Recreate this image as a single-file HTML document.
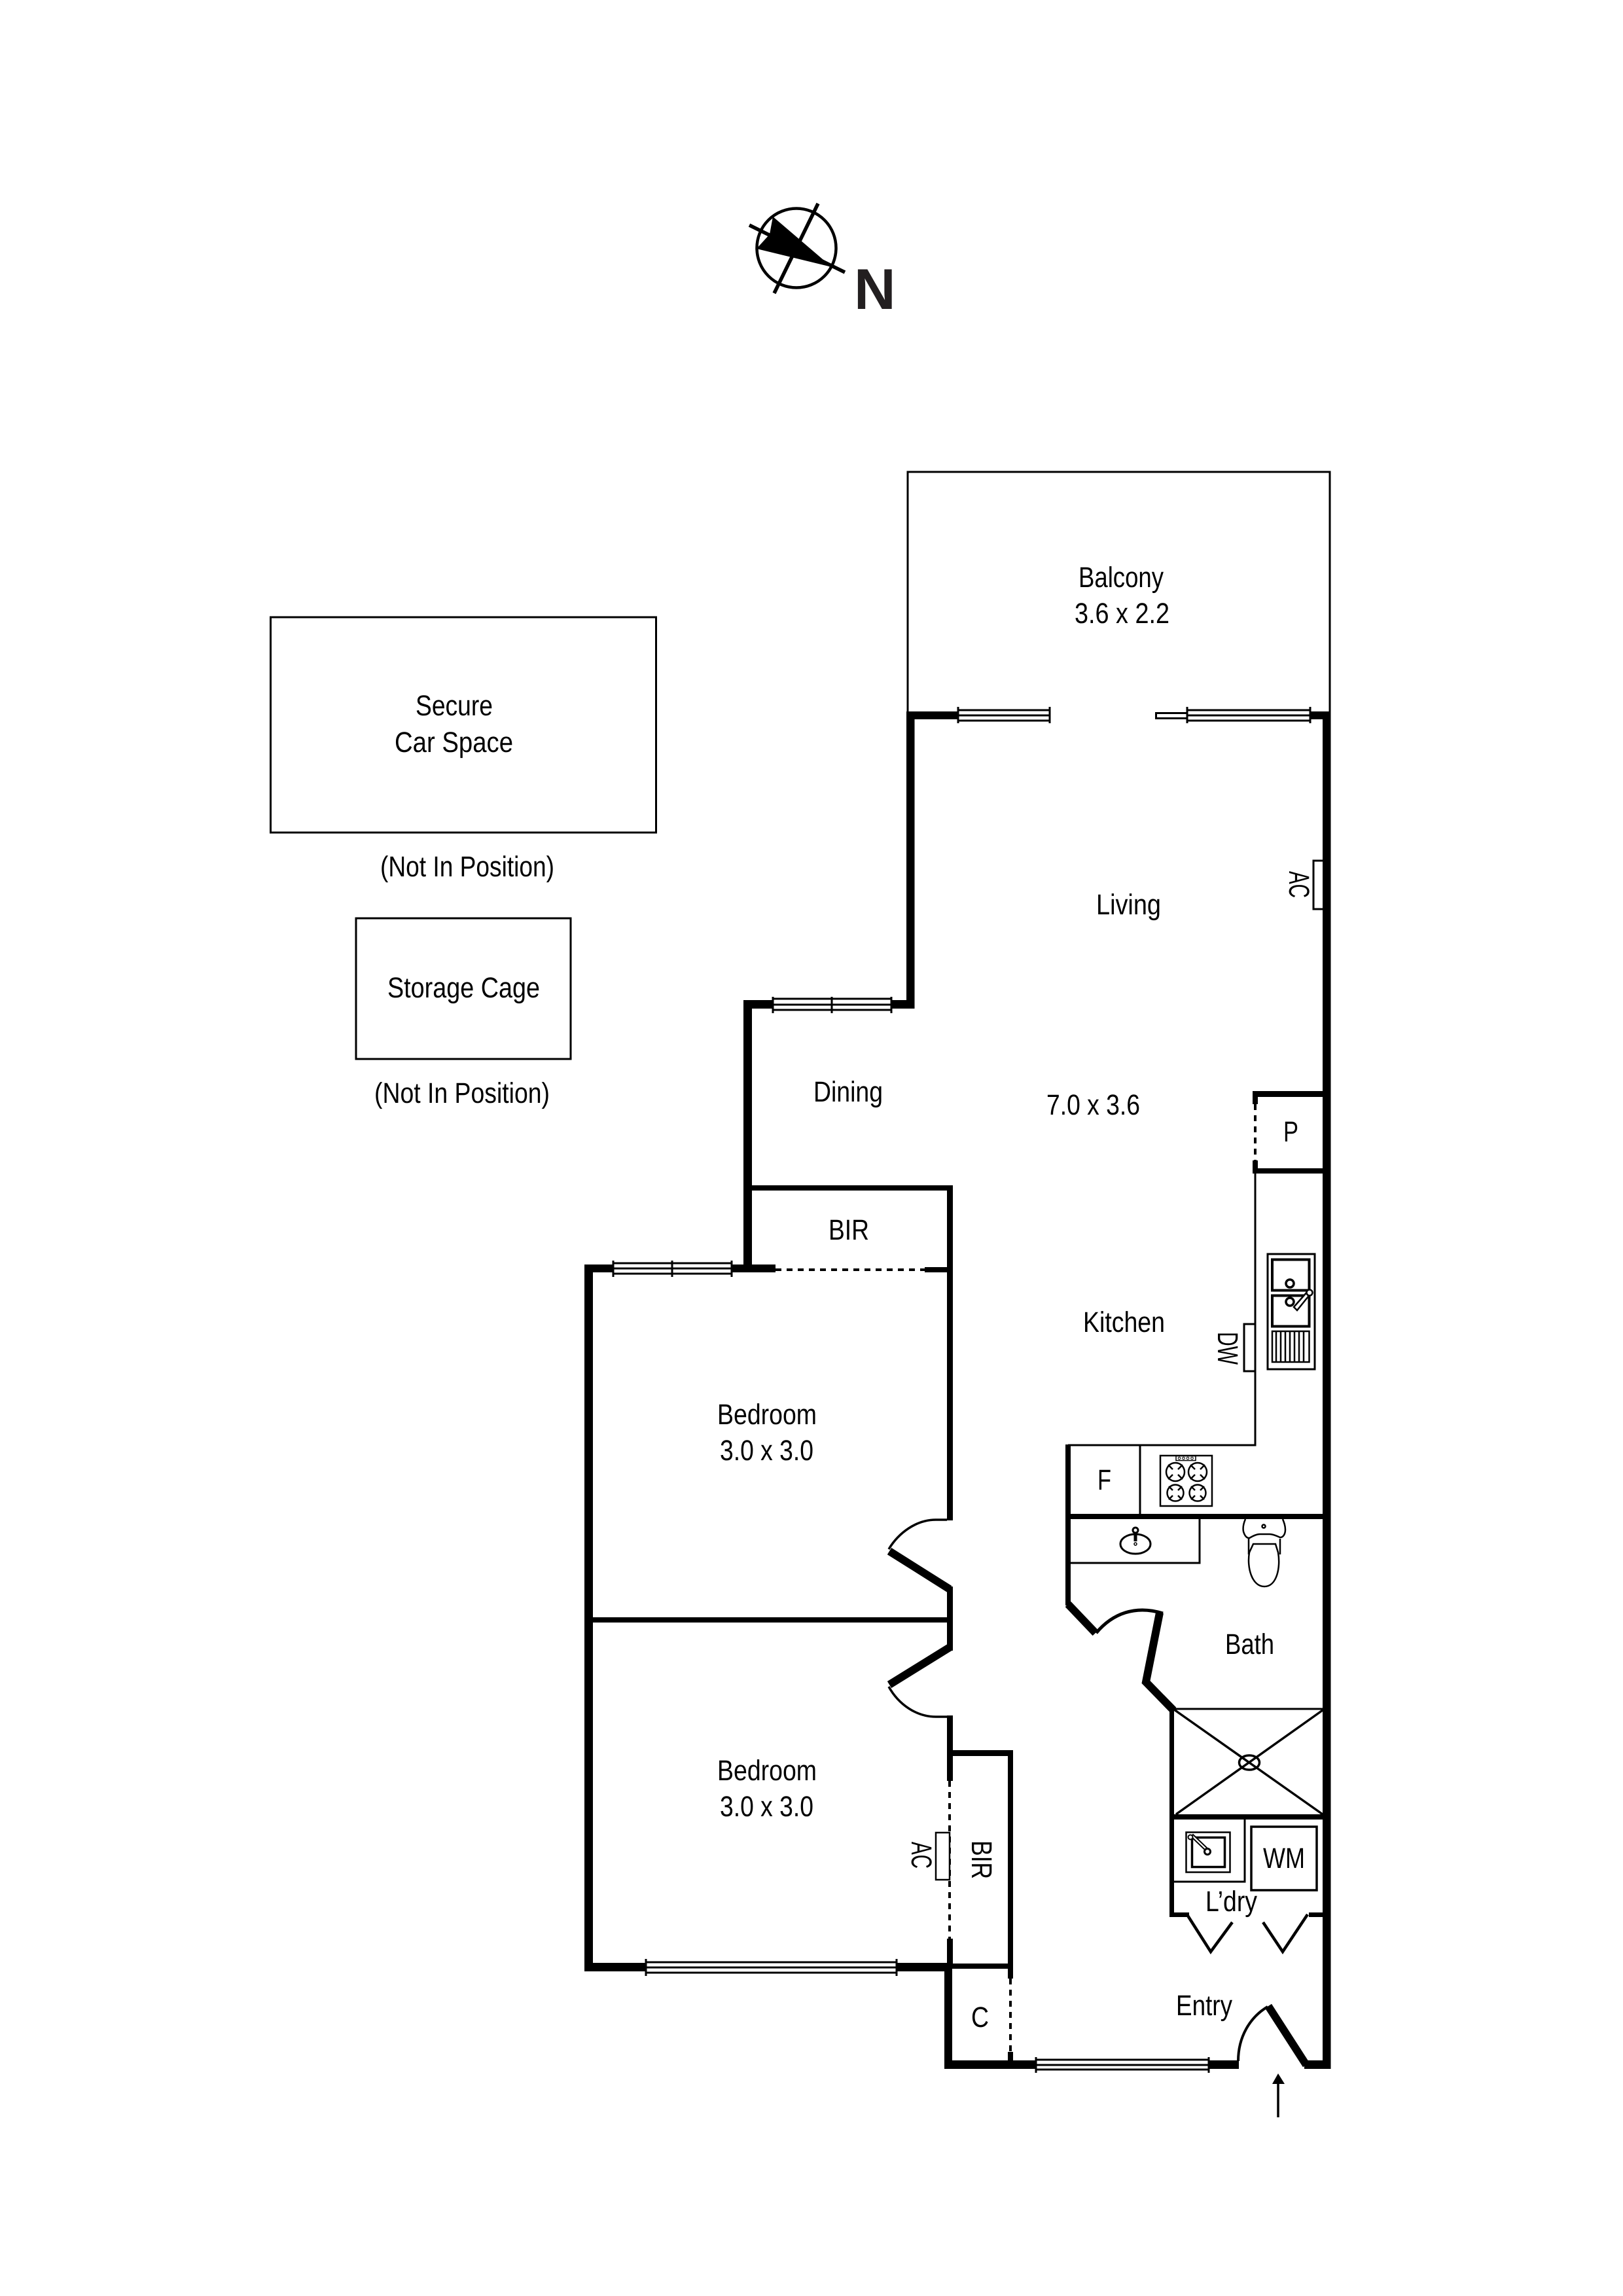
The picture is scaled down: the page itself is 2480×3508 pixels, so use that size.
<!DOCTYPE html>
<html><head><meta charset="utf-8"><title>Floor Plan</title>
<style>
html,body{margin:0;padding:0;background:#fff}
svg{display:block}
text{font-family:"Liberation Sans",Arial,sans-serif;font-size:44px;fill:#000;text-rendering:geometricPrecision}
.w{fill:#000;stroke:none}
.t{fill:none;stroke:#000;stroke-width:3}
.win line{stroke:#000;stroke-width:3}
.d{fill:none;stroke:#000;stroke-width:4;stroke-dasharray:9 8}
.leaf{fill:none;stroke:#000;stroke-width:12;stroke-linejoin:miter}
.arc{fill:none;stroke:#000;stroke-width:3.5}
</style></head><body>
<svg xmlns="http://www.w3.org/2000/svg" width="2480" height="3508" viewBox="0 0 2480 3508">
<rect width="2480" height="3508" fill="#fff"/>

<!-- Compass -->
<circle cx="1217" cy="379" r="60.5" fill="none" stroke="#000" stroke-width="4.5"/>
<line x1="1145" y1="344" x2="1291" y2="416" stroke="#000" stroke-width="5.5"/>
<line x1="1250" y1="311" x2="1183" y2="448" stroke="#000" stroke-width="5.5"/>
<polygon points="1181,331 1176,358 1156,380 1271,408" fill="#000"/>
<text x="1305" y="472" style="font-size:88px;font-weight:bold;fill:#231f20">N</text>

<!-- Separate spaces -->
<rect x="413.500" y="943" width="589" height="329" class="t"/>
<rect x="544" y="1403" width="328" height="215" class="t"/>

<!-- Balcony -->
<polyline points="1387,1090 1387,721 2032,721 2032,1090" class="t"/>

<!-- Thick walls -->
<g class="w">
<rect x="2021" y="1087" width="12.5" height="2074"/>
<rect x="2001" y="1087" width="32" height="12"/>
<rect x="1385" y="1087" width="79" height="12"/>
<rect x="1385" y="1087" width="12.5" height="454"/>
<rect x="1362" y="1528" width="35" height="13"/>
<rect x="1136" y="1528" width="45" height="13"/>
<rect x="1136" y="1528" width="13" height="416"/>
<rect x="1149" y="1811" width="307" height="8"/>
<rect x="1447" y="1811" width="9" height="512"/>
<rect x="893" y="1932" width="44" height="12"/>
<rect x="1118" y="1932" width="67" height="12"/>
<rect x="1413" y="1936" width="36" height="8"/>
<rect x="893" y="1932" width="13" height="1080"/>
<rect x="893" y="2999" width="94" height="13"/>
<rect x="1370" y="2999" width="85" height="13"/>
<rect x="906" y="2471" width="541" height="8"/>
<rect x="1447" y="2424" width="9" height="98"/>
<rect x="1447" y="2621" width="9" height="100"/>
<rect x="1447" y="2674" width="101" height="9"/>
<rect x="1540" y="2674" width="8" height="349"/>
<rect x="1447" y="2962" width="9" height="46"/>
<rect x="1447" y="3000" width="101" height="8"/>
<rect x="1443" y="3000" width="12" height="161"/>
<rect x="1443" y="3148" width="140" height="13"/>
<rect x="1540" y="3135" width="8" height="14"/>
<rect x="1847" y="3148" width="46" height="13"/>
<rect x="1993" y="3148" width="40" height="13"/>
<rect x="1914" y="1667" width="107" height="9"/>
<rect x="1914" y="1667" width="8" height="20"/>
<rect x="1914" y="1785" width="107" height="8"/>
<rect x="1914" y="1773" width="8" height="20"/>
<rect x="1628" y="2207" width="8" height="246"/>
<rect x="1628" y="2313" width="393" height="8"/>
<rect x="1787" y="2612" width="7" height="317"/>
<rect x="1787" y="2772" width="234" height="8"/>
<rect x="1787" y="2922" width="30" height="7"/>
<rect x="2000" y="2922" width="21" height="7"/>
</g>

<!-- Door leaves -->
<g class="leaf">
<line x1="1359" y1="2370" x2="1451" y2="2428"/>
<line x1="1359" y1="2574" x2="1451" y2="2517"/>
<line x1="1938" y1="3065" x2="1996" y2="3155"/>
<polyline points="1632,2451 1674,2495"/>
<polyline points="1772,2464 1751,2570 1793,2613"/>
</g>
<g class="arc">
<path d="M1447,2322 H1430 C1400,2322 1373,2342 1358,2367"/>
<path d="M1358,2577 C1373,2604 1400,2623 1430,2623 H1447"/>
<path d="M1892,3149 C1892,3112 1910,3082 1937,3066" stroke-width="4"/>
<path d="M1675,2495 C1700,2465 1735,2452 1777,2465" stroke-width="5" fill="none"/>
</g>

<!-- Dashed openings -->
<line x1="1185" y1="1940" x2="1413" y2="1940" class="d"/>
<line x1="1451" y1="2721" x2="1451" y2="2962" class="d"/>
<line x1="1544" y1="3023" x2="1544" y2="3135" class="d"/>
<line x1="1918" y1="1687" x2="1918" y2="1773" class="d"/>

<!-- Windows -->
<g class="win">
<line x1="1464" y1="1085" x2="1604" y2="1085"/><line x1="1464" y1="1093" x2="1604" y2="1093"/><line x1="1464" y1="1101" x2="1604" y2="1101"/>
<line x1="1464" y1="1080" x2="1464" y2="1105"/><line x1="1604" y1="1080" x2="1604" y2="1105"/>
<line x1="1814" y1="1085" x2="2002" y2="1085"/><line x1="1814" y1="1093" x2="2002" y2="1093"/><line x1="1814" y1="1101" x2="2002" y2="1101"/>
<line x1="1814" y1="1080" x2="1814" y2="1105"/><line x1="2002" y1="1080" x2="2002" y2="1105"/>
<line x1="1181" y1="1526" x2="1362" y2="1526"/><line x1="1181" y1="1535" x2="1362" y2="1535"/><line x1="1181" y1="1543" x2="1362" y2="1543"/>
<line x1="1181" y1="1523" x2="1181" y2="1548"/><line x1="1271" y1="1523" x2="1271" y2="1548"/><line x1="1362" y1="1523" x2="1362" y2="1548"/>
<line x1="937" y1="1930" x2="1118" y2="1930"/><line x1="937" y1="1938" x2="1118" y2="1938"/><line x1="937" y1="1946" x2="1118" y2="1946"/>
<line x1="937" y1="1926" x2="937" y2="1951"/><line x1="1027" y1="1926" x2="1027" y2="1951"/><line x1="1118" y1="1926" x2="1118" y2="1951"/>
<line x1="987" y1="2998" x2="1370" y2="2998"/><line x1="987" y1="3006" x2="1370" y2="3006"/><line x1="987" y1="3014" x2="1370" y2="3014"/>
<line x1="987" y1="2993" x2="987" y2="3019"/><line x1="1370" y1="2993" x2="1370" y2="3019"/>
<line x1="1583" y1="3147" x2="1847" y2="3147"/><line x1="1583" y1="3155" x2="1847" y2="3155"/><line x1="1583" y1="3162" x2="1847" y2="3162"/>
<line x1="1583" y1="3143" x2="1583" y2="3167"/><line x1="1847" y1="3143" x2="1847" y2="3167"/>
</g>
<rect x="1766.5" y="1089.5" width="47.5" height="8" fill="#fff" stroke="#000" stroke-width="3"/>

<!-- Counter lines -->
<polyline points="1918,1793 1918,2208 1632,2208" class="t"/>
<line x1="1742" y1="2208" x2="1742" y2="2313" class="t"/>
<polyline points="1636,2388 1833,2388 1833,2321" class="t"/>

<!-- AC / DW units -->
<polyline points="2021,1315 2007,1315 2007,1389 2021,1389" class="t" stroke-width="2.5"/>
<polyline points="1917,2023 1901,2023 1901,2095 1917,2095" class="t" stroke-width="2.5"/>
<rect x="1430" y="2800" width="21" height="72" fill="#fff" stroke="#000" stroke-width="2.5"/>

<!-- Kitchen sink -->
<g fill="none" stroke="#000">
<rect x="1937" y="1916" width="72" height="176" stroke-width="3"/>
<rect x="1944" y="1924.5" width="56.500" height="47" stroke-width="4"/>
<rect x="1944" y="1979.5" width="56.500" height="47" stroke-width="4"/>
<circle cx="1971" cy="1961" r="6" stroke-width="3.5"/>
<circle cx="1971" cy="1989" r="6" stroke-width="3.5"/>
<rect x="1944" y="2034" width="56.500" height="47" stroke-width="2.5"/>
<path d="M1950,2034V2081M1957,2034V2081M1964,2034V2081M1971,2034V2081M1978,2034V2081M1985,2034V2081M1992,2034V2081" stroke-width="2.5"/>
</g>
<polygon points="1999,1972 2003,1976 1982,2002 1977,1997" fill="#fff" stroke="#000" stroke-width="2.5"/>
<circle cx="2001" cy="1975" r="4.5" fill="#fff" stroke="#000" stroke-width="2.5"/>

<!-- Cooktop -->
<g fill="none" stroke="#000">
<rect x="1773" y="2224" width="79" height="77" stroke-width="2.5"/>
<rect x="1797" y="2224.5" width="30" height="7" stroke-width="1.5"/>
<circle cx="1802" cy="2228" r="1.8" stroke-width="1"/><circle cx="1808.500" cy="2228" r="1.8" stroke-width="1"/><circle cx="1815" cy="2228" r="1.8" stroke-width="1"/><circle cx="1821.500" cy="2228" r="1.8" stroke-width="1"/>
<circle cx="1796" cy="2249" r="14" stroke-width="2.5"/><circle cx="1830" cy="2249" r="14" stroke-width="2.5"/>
<circle cx="1796" cy="2281" r="12.500" stroke-width="2.5"/><circle cx="1830" cy="2281" r="12.500" stroke-width="2.5"/>
<path d="M1785,2238l7,7M1807,2238l-7,7M1785,2260l7,-7M1807,2260l-7,-7M1819,2238l7,7M1841,2238l-7,7M1819,2260l7,-7M1841,2260l-7,-7" stroke-width="2.5"/>
<path d="M1786,2271l6,6M1806,2271l-6,6M1786,2291l6,-6M1806,2291l-6,-6M1820,2271l6,6M1840,2271l-6,6M1820,2291l6,-6M1840,2291l-6,-6" stroke-width="2.5"/>
</g>

<!-- Basin -->
<g fill="none" stroke="#000">
<ellipse cx="1735" cy="2359" rx="23" ry="15" stroke-width="3"/>
<circle cx="1735" cy="2338" r="4" stroke-width="3"/>
<line x1="1735" y1="2342" x2="1735" y2="2355" stroke-width="5"/>
<circle cx="1735" cy="2359" r="2" stroke-width="1.5"/>
</g>

<!-- Toilet -->
<g fill="none" stroke="#000" stroke-width="2.5">
<path d="M1903,2321 C1900,2328 1899,2335 1900,2340 C1902,2347 1905,2350 1909,2350 C1914,2347 1920,2344 1925,2344 H1940 C1946,2344 1951,2347 1956,2349 C1960,2349 1964,2345 1964,2337 C1964,2331 1962,2326 1960,2321"/>
<path d="M1908,2351 V2375 M1956,2351 V2375"/>
<path d="M1915,2359 H1949 L1953,2372 C1957,2395 1951,2424 1932,2424 C1913,2424 1905,2395 1909,2372 Z"/>
<circle cx="1931" cy="2332" r="2.500"/>
</g>

<!-- Shower -->
<line x1="1792" y1="2611" x2="2021" y2="2611" class="t"/>
<g stroke="#000" stroke-width="3.5" fill="none">
<line x1="1794" y1="2612" x2="2021" y2="2772"/>
<line x1="2021" y1="2613" x2="1797" y2="2772"/>
<ellipse cx="1909" cy="2693" rx="15.500" ry="11" stroke-width="3.500"/>
</g>

<!-- Laundry -->
<polyline points="1794,2875 1902,2875 1902,2780" class="t"/>
<g fill="none" stroke="#000">
<rect x="1812.500" y="2799.500" width="67" height="61" stroke-width="2.500"/>
<rect x="1821.500" y="2807.500" width="50" height="45" stroke-width="3.500"/>
<rect x="1912" y="2791" width="100" height="97" stroke-width="3.500"/>
</g>
<polygon points="1820,2806 1823,2803 1847,2826 1844,2829" fill="#fff" stroke="#000" stroke-width="2"/>
<circle cx="1819" cy="2807" r="3.500" fill="#fff" stroke="#000" stroke-width="2"/>
<circle cx="1845" cy="2829" r="4.500" fill="#fff" stroke="#000" stroke-width="3"/>
<polyline points="1815,2927 1850,2982 1883,2937" fill="none" stroke="#000" stroke-width="4.500"/>
<polyline points="1930,2937 1960,2982 1998,2925" fill="none" stroke="#000" stroke-width="4.500"/>

<!-- Entry arrow -->
<line x1="1953" y1="3235" x2="1953" y2="3182" stroke="#000" stroke-width="3.500"/>
<polygon points="1953,3168 1944,3184 1963,3184" fill="#000"/>

<!-- Labels -->
<g transform="translate(-1,-2)">
<text x="1649" y="899" textLength="130" lengthAdjust="spacingAndGlyphs">Balcony</text>
<text x="1643" y="954" textLength="145" lengthAdjust="spacingAndGlyphs">3.6 x 2.2</text>
<text x="636" y="1095" textLength="118" lengthAdjust="spacingAndGlyphs">Secure</text>
<text x="604" y="1151" textLength="181" lengthAdjust="spacingAndGlyphs">Car Space</text>
<text x="582" y="1341" textLength="266" lengthAdjust="spacingAndGlyphs">(Not In Position)</text>
<text x="593" y="1526" textLength="233" lengthAdjust="spacingAndGlyphs">Storage Cage</text>
<text x="573" y="1687" textLength="268" lengthAdjust="spacingAndGlyphs">(Not In Position)</text>
<text x="1244" y="1685" textLength="106" lengthAdjust="spacingAndGlyphs">Dining</text>
<text x="1676" y="1399" textLength="99" lengthAdjust="spacingAndGlyphs">Living</text>
<text x="1600" y="1705" textLength="143" lengthAdjust="spacingAndGlyphs">7.0 x 3.6</text>
<text x="1656" y="2037" textLength="125" lengthAdjust="spacingAndGlyphs">Kitchen</text>
<text x="1267" y="1896" textLength="62" lengthAdjust="spacingAndGlyphs">BIR</text>
<text x="1097" y="2178" textLength="152" lengthAdjust="spacingAndGlyphs">Bedroom</text>
<text x="1101" y="2233" textLength="143" lengthAdjust="spacingAndGlyphs">3.0 x 3.0</text>
<text x="1097" y="2722" textLength="152" lengthAdjust="spacingAndGlyphs">Bedroom</text>
<text x="1101" y="2777" textLength="143" lengthAdjust="spacingAndGlyphs">3.0 x 3.0</text>
<text x="1873" y="2529" textLength="75" lengthAdjust="spacingAndGlyphs">Bath</text>
<text x="1678" y="2278" textLength="21" lengthAdjust="spacingAndGlyphs">F</text>
<text x="1962" y="1746" textLength="23" lengthAdjust="spacingAndGlyphs">P</text>
<text x="1485" y="3099" textLength="27" lengthAdjust="spacingAndGlyphs">C</text>
<text x="1931" y="2856" textLength="64" lengthAdjust="spacingAndGlyphs">WM</text>
<text x="1843" y="2922" textLength="79" lengthAdjust="spacingAndGlyphs">L’dry</text>
<text x="1798" y="3081" textLength="86" lengthAdjust="spacingAndGlyphs">Entry</text>
</g>
<text transform="translate(1485,2812) rotate(90)" textLength="59" lengthAdjust="spacingAndGlyphs">BIR</text>
<text transform="translate(1393,2814) rotate(90)" textLength="41" lengthAdjust="spacingAndGlyphs">AC</text>
<text transform="translate(1970,1331) rotate(90)" textLength="41" lengthAdjust="spacingAndGlyphs">AC</text>
<text transform="translate(1861,2035) rotate(90)" textLength="50" lengthAdjust="spacingAndGlyphs">DW</text>
</svg>
</body></html>
